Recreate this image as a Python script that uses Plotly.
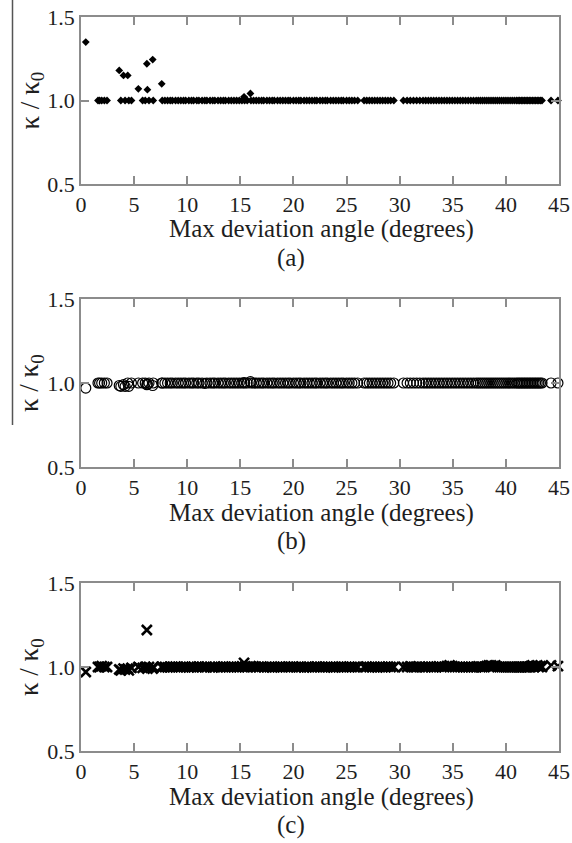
import plotly.graph_objects as go

# Maximum deviation angle (degrees) shared by the three runs
angles = [
    0.45, 1.6, 1.75, 1.95, 2.2, 2.45, 3.6, 3.75, 4.0, 4.15,
    4.4, 4.5, 4.75, 5.4, 5.8, 6.05, 6.2, 6.25, 6.4, 6.75,
    6.8, 7.6, 7.65, 7.9, 8.15, 8.4, 8.6, 8.9, 9.15, 9.4,
    9.65, 9.85, 10.15, 10.4, 10.6, 10.9, 11.1, 11.4, 11.65, 11.85,
    12.15, 12.4, 12.6, 12.9, 13.15, 13.4, 13.6, 13.9, 14.15, 14.4,
    14.65, 14.9, 15.15, 15.35, 15.4, 15.65, 15.95, 16.0, 16.25, 16.5,
    16.75, 17.0, 17.2, 17.5, 17.75, 18.0, 18.2, 18.5, 18.75, 19.0,
    19.25, 19.5, 19.7, 20.0, 20.25, 20.5, 20.7, 21.0, 21.25, 21.5,
    21.75, 22.0, 22.2, 22.5, 22.75, 23.0, 23.2, 23.5, 23.75, 24.0,
    24.25, 24.5, 24.7, 25.0, 25.25, 25.5, 25.75, 26.05, 26.65, 26.9,
    27.15, 27.4, 27.65, 27.9, 28.15, 28.4, 28.65, 28.9, 29.15, 29.45,
    30.35, 30.7, 31.0, 31.3, 31.6, 31.9, 32.2, 32.45, 32.7, 32.95,
    33.2, 33.45, 33.7, 33.95, 34.2, 34.45, 34.7, 34.95, 35.2, 35.45,
    35.7, 35.95, 36.2, 36.45, 36.7, 36.95, 37.2, 37.4, 37.6, 37.8,
    38.0, 38.2, 38.4, 38.6, 38.8, 39.0, 39.2, 39.4, 39.6, 39.8,
    40.0, 40.2, 40.4, 40.6, 40.8, 41.0, 41.15, 41.3, 41.45, 41.6,
    41.75, 41.9, 42.05, 42.2, 42.35, 42.5, 42.65, 42.8, 42.95, 43.1,
    43.25, 43.4, 44.25, 44.9,
]

# Normalised conductivity kappa / kappa_0, run (a)
kappa_a = [
    1.35, 1.0, 1.0, 1.0, 1.0, 1.0, 1.18, 1.0, 1.15, 1.0,
    1.15, 1.0, 1.0, 1.07, 1.0, 1.0, 1.22, 1.065, 1.0, 1.245,
    1.0, 1.10, 1.0, 1.0, 1.0, 1.0, 1.0, 1.0, 1.0, 1.0,
    1.0, 1.0, 1.0, 1.0, 1.0, 1.0, 1.0, 1.0, 1.0, 1.0,
    1.0, 1.0, 1.0, 1.0, 1.0, 1.0, 1.0, 1.0, 1.0, 1.0,
    1.0, 1.0, 1.0, 1.022, 1.0, 1.0, 1.042, 1.0, 1.0, 1.0,
    1.0, 1.0, 1.0, 1.0, 1.0, 1.0, 1.0, 1.0, 1.0, 1.0,
    1.0, 1.0, 1.0, 1.0, 1.0, 1.0, 1.0, 1.0, 1.0, 1.0,
    1.0, 1.0, 1.0, 1.0, 1.0, 1.0, 1.0, 1.0, 1.0, 1.0,
    1.0, 1.0, 1.0, 1.0, 1.0, 1.0, 1.0, 1.0, 1.0, 1.0,
    1.0, 1.0, 1.0, 1.0, 1.0, 1.0, 1.0, 1.0, 1.0, 1.0,
    1.0, 1.0, 1.0, 1.0, 1.0, 1.0, 1.0, 1.0, 1.0, 1.0,
    1.0, 1.0, 1.0, 1.0, 1.0, 1.0, 1.0, 1.0, 1.0, 1.0,
    1.0, 1.0, 1.0, 1.0, 1.0, 1.0, 1.0, 1.0, 1.0, 1.0,
    1.0, 1.0, 1.0, 1.0, 1.0, 1.0, 1.0, 1.0, 1.0, 1.0,
    1.0, 1.0, 1.0, 1.0, 1.0, 1.0, 1.0, 1.0, 1.0, 1.0,
    1.0, 1.0, 1.0, 1.0, 1.0, 1.0, 1.0, 1.0, 1.0, 1.0,
    1.0, 1.0, 1.0, 1.0,
]

# Normalised conductivity kappa / kappa_0, run (b)
kappa_b = [
    0.97, 1.0, 1.0, 1.0, 1.0, 1.0, 0.985, 0.98, 0.99, 0.98,
    1.0, 0.98, 1.0, 1.0, 1.0, 1.0, 0.99, 0.995, 1.0, 0.985,
    1.0, 1.0, 1.0, 1.0, 1.0, 1.0, 1.0, 1.0, 1.0, 1.0,
    1.0, 1.0, 1.0, 1.0, 1.0, 1.0, 1.0, 1.0, 0.998, 1.0,
    1.0, 1.0, 1.0, 1.0, 1.0, 1.0, 1.0, 1.0, 1.0, 1.0,
    1.0, 1.0, 1.0, 1.002, 1.0, 1.0, 1.008, 1.0, 1.0, 1.0,
    1.0, 1.0, 1.0, 1.0, 1.0, 1.0, 1.0, 1.0, 1.0, 1.0,
    1.0, 1.0, 1.0, 1.0, 1.0, 1.0, 1.0, 1.0, 1.0, 1.0,
    1.0, 1.0, 1.0, 1.0, 1.0, 1.0, 1.0, 1.0, 1.0, 1.0,
    1.0, 1.0, 1.0, 1.0, 1.0, 1.0, 1.0, 1.0, 1.0, 1.0,
    1.0, 1.0, 1.0, 1.0, 1.0, 1.0, 1.0, 1.0, 1.0, 1.0,
    1.0, 1.0, 1.0, 1.0, 1.0, 1.0, 1.0, 1.0, 1.0, 1.0,
    1.0, 1.0, 1.0, 1.0, 1.0, 1.0, 1.0, 1.0, 1.0, 1.0,
    1.0, 1.0, 1.0, 1.0, 1.0, 1.0, 1.0, 1.0, 1.0, 1.0,
    1.0, 1.0, 1.0, 1.0, 1.0, 1.0, 1.0, 1.0, 1.0, 1.0,
    1.0, 1.0, 1.0, 1.0, 1.0, 1.0, 1.0, 1.0, 1.0, 1.0,
    1.0, 1.0, 1.0, 1.0, 1.0, 1.0, 1.0, 1.0, 1.0, 1.0,
    1.0, 1.0, 1.0, 1.0,
]

# Normalised conductivity kappa / kappa_0, run (c)
kappa_c = [
    0.97, 1.0, 1.0, 1.005, 1.0, 1.0, 0.985, 0.98, 0.99, 0.985,
    0.99, 0.98, 0.995, 1.0, 0.995, 1.0, 1.22, 0.99, 1.0, 0.99,
    1.0, 1.0, 1.0, 1.0, 0.998, 1.0, 1.0, 1.002, 1.0, 1.0,
    1.0, 1.0, 0.998, 1.0, 1.0, 1.0, 1.002, 1.0, 1.0, 1.0,
    1.0, 0.998, 1.0, 1.0, 1.0, 1.002, 1.0, 1.0, 1.0, 1.0,
    1.0, 1.0, 1.003, 1.025, 1.0, 1.0, 1.005, 1.0, 1.003, 1.0,
    1.0, 1.002, 1.0, 1.0, 1.0, 0.998, 1.0, 1.0, 1.002, 1.0,
    1.0, 1.0, 1.0, 1.002, 1.0, 1.0, 1.0, 0.998, 1.0, 1.0,
    1.0, 1.0, 1.002, 1.0, 1.0, 1.0, 1.0, 1.0, 0.998, 1.0,
    1.0, 1.002, 1.0, 1.0, 1.0, 1.0, 1.0, 1.0, 1.0, 1.002,
    1.0, 1.0, 1.0, 0.998, 1.0, 1.0, 1.0, 1.002, 1.0, 1.0,
    1.0, 1.0, 1.003, 1.0, 1.0, 1.0, 1.0, 1.0, 1.002, 1.0,
    1.0, 1.0, 1.003, 1.0, 1.0, 1.005, 1.01, 1.005, 1.0, 1.0,
    1.0, 1.0, 1.0, 1.0, 1.0, 1.0, 1.0, 1.003, 1.0, 1.0,
    1.0, 1.005, 1.01, 1.01, 1.005, 1.01, 1.0, 1.0, 1.0, 1.0,
    1.0, 1.0, 1.0, 1.0, 1.0, 1.0, 1.0, 1.0, 1.0, 1.0,
    1.0, 1.0, 1.0, 1.0, 1.005, 1.01, 1.0, 1.005, 1.01, 1.0,
    1.005, 1.0, 1.01, 1.005,
]

x_ticks = [0, 5, 10, 15, 20, 25, 30, 35, 40, 45]
y_ticks = [0.5, 1.0, 1.5]
y_tick_text = ["0.5", "1.0", "1.5"]
panel_labels = ["(a)", "(b)", "(c)"]
x_title = "Max deviation angle (degrees)"
y_title = "\u03ba / \u03ba<sub>0</sub>"

W, H = 572, 843
FONT = "'Liberation Serif', 'Times New Roman', Times, 'DejaVu Serif', serif"
TEXT = "#1e1e1e"
FRAME = "#8c8c8c"

# Pixel geometry of the three stacked panels (top, bottom)
plot_left, plot_right = 81, 559
panels_px = [(17, 184), (299, 467), (583, 751)]
title_offsets = [45, 46, 46]
label_offset = 74


def py(p):
    return 1 - p / H


fig = go.Figure()

markers = [
    dict(symbol="diamond", size=6, color="black"),
    dict(symbol="circle-open", size=10, color="black", line=dict(width=1.2, color="black")),
    dict(symbol="x-thin-open", size=10, color="black", line=dict(width=2.6, color="black")),
]
series = [kappa_a, kappa_b, kappa_c]

for i, (ys, mk) in enumerate(zip(series, markers)):
    sfx = "" if i == 0 else str(i + 1)
    fig.add_trace(go.Scatter(
        x=angles, y=ys, mode="markers", marker=mk,
        xaxis="x" + sfx, yaxis="y" + sfx, showlegend=False, cliponaxis=False,
    ))

axis_common = dict(
    showline=True, linecolor=FRAME, linewidth=1.5, mirror="ticks",
    ticks="inside", ticklen=8, tickwidth=1.5, tickcolor=FRAME,
    showgrid=False, zeroline=False, automargin=False,
    tickfont=dict(family=FONT, size=22, color=TEXT),
)

annotations = []
for i, (top, bot) in enumerate(panels_px):
    sfx = "" if i == 0 else str(i + 1)
    fig.layout["xaxis" + sfx] = dict(
        axis_common, domain=[plot_left / W, plot_right / W], range=[0, 45],
        tickvals=x_ticks, anchor="y" + sfx,
    )
    fig.layout["yaxis" + sfx] = dict(
        axis_common, domain=[py(bot), py(top)], range=[0.5, 1.5],
        tickvals=y_ticks, ticktext=y_tick_text, anchor="x" + sfx,
    )
    annotations.append(dict(
        text=x_title, xref="paper", yref="paper",
        x=321 / W, y=py(bot + title_offsets[i]), xanchor="center", yanchor="middle",
        showarrow=False, font=dict(family=FONT, size=25, color=TEXT),
    ))
    annotations.append(dict(
        text=panel_labels[i], xref="paper", yref="paper",
        x=291 / W, y=py(bot + label_offset), xanchor="center", yanchor="middle",
        showarrow=False, font=dict(family=FONT, size=25, color=TEXT),
    ))
    annotations.append(dict(
        text=y_title, xref="paper", yref="paper", textangle=-90,
        x=31 / W, y=py((top + bot) / 2), xanchor="center", yanchor="middle",
        showarrow=False, font=dict(family=FONT, size=27, color=TEXT),
    ))

fig.update_layout(
    width=W, height=H, margin=dict(l=0, r=0, t=0, b=0, autoexpand=False),
    paper_bgcolor="white", plot_bgcolor="white",
    font=dict(family=FONT, color=TEXT),
    annotations=annotations,
    shapes=[dict(
        type="line", xref="paper", yref="paper",
        x0=12.5 / W, x1=12.5 / W, y0=1.0, y1=py(425),
        line=dict(color="#555555", width=1.5),
    )],
)

fig.write_html("out.html")
